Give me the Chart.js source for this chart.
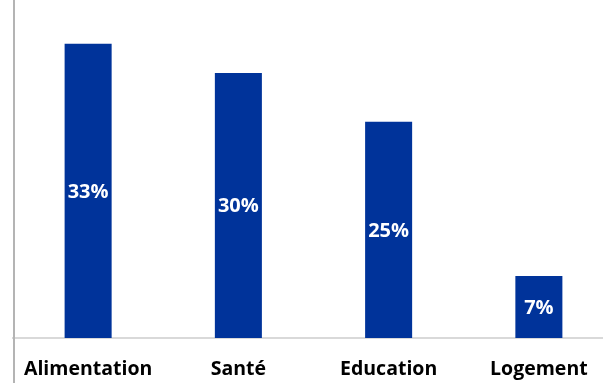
<!DOCTYPE html>
<html>
<head>
<meta charset="utf-8">
<script src="https://cdn.jsdelivr.net/npm/chart.js@4"></script>
<style>
html, body { margin: 0; padding: 0; background: #fff; overflow: hidden; }
#wrap { position: relative; width: 614px; height: 383px; }
</style>
</head>
<body>
<div id="wrap"><canvas id="myChart"></canvas></div>
<script>
var categories = ['Alimentation', 'Santé', 'Education', 'Logement']
var values = [33.2, 29.9, 24.4, 7.0]
var valueLabels = ['33%', '30%', '25%', '7%']
var barColor = '#00339A'

// left axis line, runs through the whole height
var leftLine = {
    id: 'leftLine',
    afterDraw: function(chart){
        let ctx = chart.ctx
        let x = chart.chartArea.left + 1
        ctx.save()
        ctx.strokeStyle = '#b4b4b4'
        ctx.lineWidth = 2
        ctx.beginPath()
        ctx.moveTo(x, 0)
        ctx.lineTo(x, chart.height)
        ctx.stroke()
        ctx.restore()
    }
}

// value text in the middle of each bar
var barText = {
    id: 'barText',
    afterDatasetsDraw: function(chart){
        let ctx = chart.ctx
        let meta = chart.getDatasetMeta(0)
        ctx.save()
        ctx.fillStyle = '#ffffff'
        ctx.font = 'bold 20px "Open Sans"'
        ctx.textAlign = 'center'
        ctx.textBaseline = 'middle'
        meta.data.forEach(function(bar, i){
            ctx.fillText(valueLabels[i], bar.x, (bar.y + bar.base) / 2 + 1)
        })
        ctx.restore()
    }
}

let myChart = document.getElementById('myChart').getContext('2d')
let chart = new Chart(myChart, {
    type: 'bar',
    data: {
        labels: categories,
        datasets: [{
            data: values,
            backgroundColor: barColor,
            categoryPercentage: 1,
            barPercentage: 0.313
        }]
    },
    options: {
        responsive: true,
        maintainAspectRatio: false,
        animation: false,
        layout: { padding: { left: 13, right: 0, top: 0, bottom: 0 } },
        plugins: {
            legend: { display: false },
            tooltip: { enabled: false }
        },
        scales: {
            x: {
                grid: { display: false, drawTicks: false },
                border: { display: true, color: '#d9d9d9', width: 2 },
                ticks: {
                    color: '#000000',
                    padding: 20,
                    font: { family: '"Open Sans"', size: 19.5, weight: 'bold' }
                },
                afterFit: function(scale){ scale.height = 45 }
            },
            y: {
                display: false,
                min: 0,
                max: 38.15
            }
        }
    },
    plugins: [leftLine, barText]
});
</script>
</body>
</html>
